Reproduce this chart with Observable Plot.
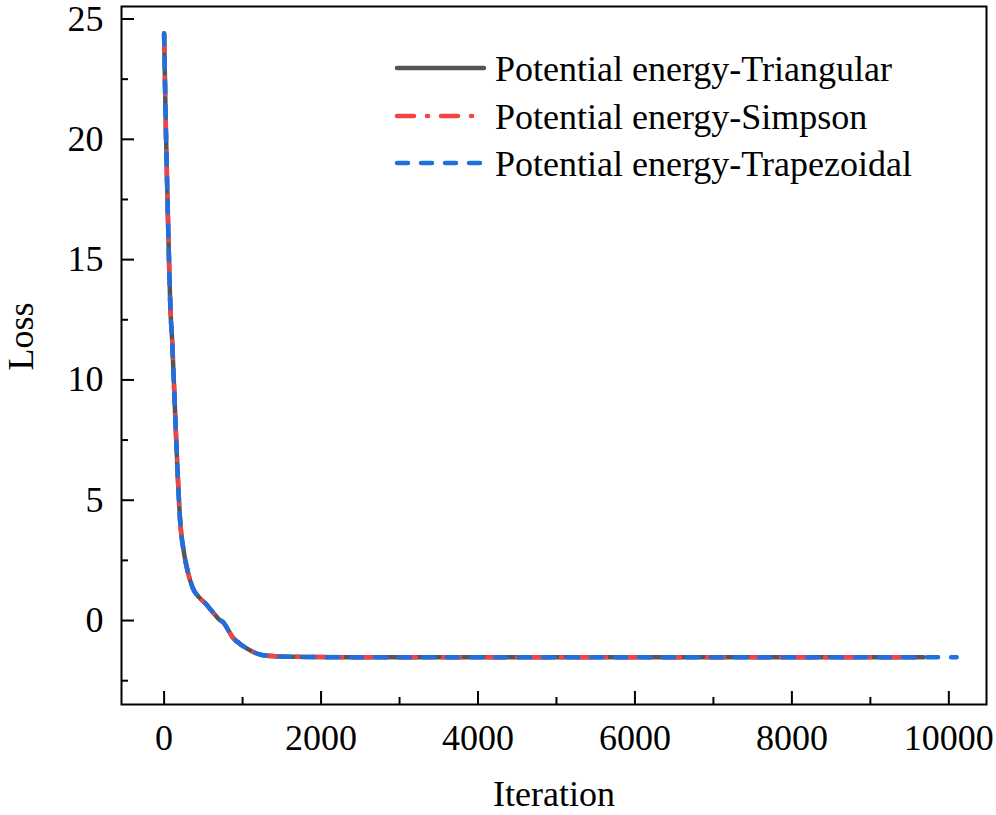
<!DOCTYPE html>
<html><head><meta charset="utf-8">
<script src="https://cdn.jsdelivr.net/npm/d3@7"></script>
<script src="https://cdn.jsdelivr.net/npm/@observablehq/plot@0.6"></script>
<style>body{margin:0;background:#fff}</style>
</head><body><div id="chart"></div>
<script>
// ---- data ----
const seriesNames = ["Potential energy-Triangular", "Potential energy-Simpson", "Potential energy-Trapezoidal"];
const seriesColors = ["#555555", "#f24444", "#1f6fe0"];

const commonIter = [0, 20, 50, 85, 100, 127, 162, 204, 255, 298, 362, 450, 530, 620, 700, 760, 800, 871, 960, 1063, 1150, 1232, 1400, 1700, 2000, 3000, 4000, 5000, 6000, 7000, 8000, 9000];
const commonLoss = [24.4, 20.8, 16.6, 12.6, 11.8, 9.7, 6.9, 4.15, 2.78, 2.08, 1.38, 0.95, 0.7, 0.35, 0.05, -0.1, -0.3, -0.69, -0.95, -1.18, -1.33, -1.42, -1.48, -1.51, -1.52, -1.53, -1.53, -1.53, -1.53, -1.53, -1.53, -1.53];

const iterTriangular = [...commonIter, 9680];
const lossTriangular = [...commonLoss, -1.53];
const iterSimpson = [...commonIter, 9680];
const lossSimpson = [...commonLoss, -1.53];
const iterTrapezoidal = [...commonIter, 10100];
const lossTrapezoidal = [...commonLoss, -1.53];

const xTicks = [0, 2000, 4000, 6000, 8000, 10000];
const xMinorTicks = [1000, 3000, 5000, 7000, 9000];
const yTicks = [0, 5, 10, 15, 20, 25];
const yMinorTicks = [-2.5, 2.5, 7.5, 12.5, 17.5, 22.5];
const xDomain = [-543, 10480];
const yDomain = [-3.49, 25.52];

// ---- layout ----
const W = 996, H = 815;
const mL = 121, mR = 10, mT = 6, mB = 111;
const innerW = W - mL - mR, innerH = H - mT - mB;
const font = "Liberation Serif, Times New Roman, serif";

const toRows = (xs, ys) => xs.map((x, i) => ({x, y: ys[i]}));
const dashes = [null, "17,13,1,13", "11,13"];
const series = [
  toRows(iterTriangular, lossTriangular),
  toRows(iterSimpson, lossSimpson),
  toRows(iterTrapezoidal, lossTrapezoidal)
];

const chart = Plot.plot({
  width: W, height: H,
  marginLeft: mL, marginRight: mR, marginTop: mT, marginBottom: mB,
  style: {fontFamily: font, fontSize: "36px", color: "black", background: "white", overflow: "visible"},
  x: {domain: xDomain},
  y: {domain: yDomain},
  marks: [
    ...series.map((rows, i) => Plot.line(rows, {
      x: "x", y: "y", stroke: seriesColors[i], strokeWidth: 4.5,
      strokeDasharray: dashes[i], strokeLinecap: "round", curve: "monotone-x"
    })),
    Plot.frame({stroke: "black", strokeWidth: 2}),
    Plot.ruleX(xTicks, {x: d => d, insetTop: innerH - 13, stroke: "black", strokeWidth: 2}),
    Plot.ruleX(xMinorTicks, {x: d => d, insetTop: innerH - 7, stroke: "black", strokeWidth: 2}),
    Plot.ruleY(yTicks, {y: d => d, insetRight: innerW - 13, stroke: "black", strokeWidth: 2}),
    Plot.ruleY(yMinorTicks, {y: d => d, insetRight: innerW - 7, stroke: "black", strokeWidth: 2}),
    Plot.axisX(xTicks, {tickSize: 0, tickPadding: 20, label: null, fontSize: 36, tickFormat: d3.format("d")}),
    Plot.axisY(yTicks, {tickSize: 0, tickPadding: 18, label: null, fontSize: 36, tickFormat: d3.format("d")}),
    Plot.text(["Iteration"], {frameAnchor: "bottom", dy: 101, fontSize: 36, fontFamily: font, fill: "black"}),
    Plot.text(["Loss"], {frameAnchor: "left", rotate: -90, dx: -100, dy: 15, fontSize: 36, fontFamily: font, fill: "black"})
  ]
});

// legend drawn inside the plot area
const svg = d3.select(chart);
const lg = svg.append("g").attr("font-family", font).attr("font-size", 36).attr("text-anchor", "start");
const legendY = [68, 116, 163];
seriesNames.forEach((name, i) => {
  lg.append("line")
    .attr("x1", 397).attr("x2", 484).attr("y1", legendY[i]).attr("y2", legendY[i])
    .attr("stroke", seriesColors[i]).attr("stroke-width", 4.5)
    .attr("stroke-linecap", "round")
    .attr("stroke-dasharray", dashes[i]);
  lg.append("text").attr("x", 495).attr("y", legendY[i] + 12.5)
    .attr("fill", "black").attr("text-anchor", "start").text(name);
});

document.getElementById("chart").appendChild(chart);
</script>
</body></html>
